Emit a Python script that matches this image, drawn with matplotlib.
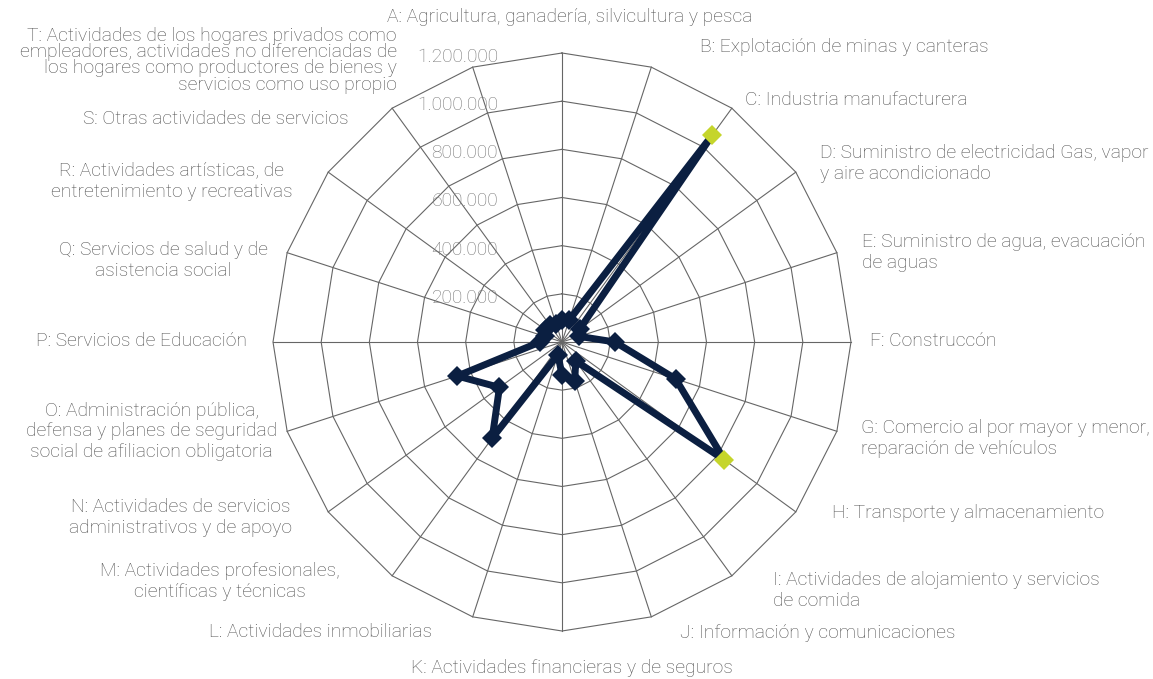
import numpy as np
import matplotlib.pyplot as plt

plt.rcParams['font.family'] = ['Roboto', 'DejaVu Sans']

# ── Data ─────────────────────────────────────────────────────────────────────
codes = list('ABCDEFGHIJKLMNOPQRST')
labels = [
    'A: Agricultura, ganadería, silvicultura y pesca',
    'B: Explotación de minas y canteras',
    'C: Industria manufacturera',
    'D: Suministro de electricidad Gas, vapor\ny aire acondicionado',
    'E: Suministro de agua, evacuación\nde aguas',
    'F: Construccón',
    'G: Comercio al por mayor y menor,\nreparación de vehículos',
    'H: Transporte y almacenamiento',
    'I: Actividades de alojamiento y servicios\nde comida',
    'J: Información y comunicaciones',
    'K: Actividades financieras y de seguros',
    'L: Actividades inmobiliarias',
    'M: Actividades profesionales,\ncientíficas y técnicas',
    'N: Actividades de servicios\nadministrativos y de apoyo',
    'O: Administración pública,\ndefensa y planes de seguridad\nsocial de afiliacion obligatoria',
    'P: Servicios de Educación',
    'Q: Servicios de salud y de\nasistencia social',
    'R: Actividades artísticas, de\nentretenimiento y recreativas',
    'S: Otras actividades de servicios',
    'T: Actividades de los hogares privados como\nempleadores, actividades no diferenciadas de\n'
    'los hogares como productores de bienes y\nservicios como uso propio',
]
values = [90000, 95000, 1063000, 90000, 75000, 220000, 496000, 834000, 97000, 171000,
          137000, 55000, 493000, 321000, 457000, 91000, 75000, 85000, 85000, 80000]
highlight = ['C', 'H']
ticks = [200000, 400000, 600000, 800000, 1000000, 1200000]
tick_labels = ['200.000', '400.000', '600.000', '800.000', '1.000.000', '1.200.000']

# ── Style ────────────────────────────────────────────────────────────────────
C_LINE = '#0b1f41'
C_HIGH = '#c5d52b'
C_GRID = '#666666'
C_TEXT = '#505050'
C_TICK = '#777777'
FS = 13.9

# label offsets from spoke end (pixels) and alignment
label_pos = [
    (8, 36, 'center'), (49, 20, 'left'), (13, 8, 'left'), (24, 9, 'left'),
    (25, 0, 'left'), (19, 1, 'left'), (24, -7, 'left'), (36, -1, 'left'),
    (41, -15, 'left'), (29, -16, 'left'), (10, -37, 'center'), (-41, -15, 'right'),
    (-52, -6, 'right'), (-36, -6, 'right'), (-10, 0, 'right'), (-26, 1, 'right'),
    (-19, -8, 'right'), (-36, -9, 'right'), (-44, -11, 'right'), (-76, 7, 'right'),
]

W, H, R = 1153, 679, 289
cx, cy = 562, 342
fig = plt.figure(figsize=(W / 100, H / 100), dpi=100)
fig.patch.set_facecolor('white')
ax = fig.add_axes([(cx - R) / W, (H - cy - R) / H, 2 * R / W, 2 * R / H], projection='polar')
ax.set_theta_zero_location('N')
ax.set_theta_direction(-1)
ax.set_ylim(0, ticks[-1])
ax.axis('off')

n = len(codes)
theta = np.linspace(0, 2 * np.pi, n, endpoint=False)
closed = np.append(theta, theta[0])

# polygon grid
for t in ticks:
    ax.plot(closed, [t] * (n + 1), color=C_GRID, lw=0.8, clip_on=False, zorder=1)
for th in theta:
    ax.plot([th, th], [0, ticks[-1]], color=C_GRID, lw=0.8, clip_on=False, zorder=1)

# tick labels along the A spoke
for t, tl in zip(ticks, tick_labels):
    ax.annotate(tl, xy=(0, t), xytext=(-64, -4), textcoords='offset pixels',
                ha='right', va='center', fontsize=FS, color=C_TICK,
                fontweight='light', zorder=2, annotation_clip=False)

# series
vals = np.array(values, dtype=float)
ax.plot(closed, np.append(vals, vals[0]), color=C_LINE, lw=5,
        solid_joinstyle='round', clip_on=False, zorder=3)
is_high = np.array([c in highlight for c in codes])
ax.plot(theta[~is_high], vals[~is_high], 'D', color=C_LINE, ms=10, mew=0,
        clip_on=False, zorder=4)
ax.plot(theta[is_high], vals[is_high], 'D', color=C_HIGH, ms=10, mew=0,
        clip_on=False, zorder=5)

# category labels
for th, lab, (dx, dy, ha) in zip(theta, labels, label_pos):
    code = lab[0]
    ls = 0.88 if code == 'T' else 1.2
    ma = 'right' if code == 'T' else ('left' if ha == 'left' else 'center')
    ax.annotate(lab, xy=(th, ticks[-1]), xytext=(dx, dy), textcoords='offset pixels',
                ha=ha, va='center', multialignment=ma, linespacing=ls,
                fontsize=FS, color=C_TEXT, fontweight='light', annotation_clip=False)

fig.savefig('out.png', dpi=100, facecolor='white')
